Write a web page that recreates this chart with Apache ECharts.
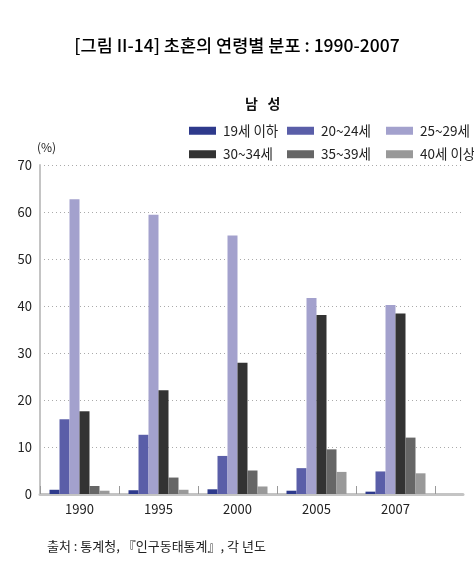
<!DOCTYPE html>
<html>
<head>
<meta charset="utf-8">
<script src="https://cdn.jsdelivr.net/npm/echarts@6/dist/echarts.min.js"></script>
<style>
  html, body { margin: 0; padding: 0; background: #fff; }
  #chart { width: 474px; height: 575px; }
</style>
</head>
<body>
<div id="chart"></div>
<script>
// 연도
var years = ['1990', '1995', '2000', '2005', '2007'];
// 연령대 이름
var groups = ['19세 이하', '20~24세', '25~29세', '30~34세', '35~39세', '40세 이상'];
var colors = ['#2e3a8c', '#5a5ea8', '#a3a1cd', '#333333', '#666666', '#999999'];

// 연령대별 값 (%)
var age19 = [0.9, 0.8, 1.0, 0.7, 0.5];
var age20 = [15.9, 12.6, 8.1, 5.5, 4.8];
var age25 = [62.7, 59.4, 55.0, 41.7, 40.2];
var age30 = [17.6, 22.1, 27.9, 38.1, 38.4];
var age35 = [1.7, 3.5, 5.0, 9.5, 12.0];
var age40 = [0.7, 0.9, 1.6, 4.7, 4.4];
var values = [age19, age20, age25, age30, age35, age40];

var yTicks = [0, 10, 20, 30, 40, 50, 60, 70];

var font = 'Noto Sans CJK KR';

(function () {
  var myChart = echarts.init(document.getElementById('chart'));

  var series = [];
  for (var i = 0; i < groups.length; i++) {
    series.push({
      name: groups[i],
      type: 'bar',
      xAxisIndex: 1,
      yAxisIndex: 1,
      barWidth: 10,
      barGap: '0%',
      itemStyle: { color: colors[i] },
      data: values[i]
    });
  }

  var legendBase = {
    orient: 'vertical',
    top: 119,
    itemWidth: 27,
    itemHeight: 8,
    itemGap: 10,
    icon: 'rect',
    textStyle: { fontFamily: font, fontSize: 13.5, color: '#222', padding: [0, 0, 0, 2] }
  };

  var option = {
    color: colors,
    animation: false,
    title: [
      {
        text: '[그림 II-14] 초혼의 연령별 분포 : 1990-2007',
        left: 'center',
        top: 32,
        textStyle: { fontFamily: font, fontSize: 17.5, fontWeight: 500, color: '#000' }
      },
      {
        text: '남   성',
        left: 240,
        top: 92,
        textStyle: { fontFamily: font, fontSize: 14, fontWeight: 'bold', color: '#111' }
      },
      {
        text: '(%)',
        left: 32,
        top: 136,
        textStyle: { fontFamily: font, fontSize: 12, fontWeight: 'normal', color: '#222' }
      },
      {
        text: '출처 : 통계청, 『인구동태통계』, 각 년도',
        left: 42,
        top: 535,
        textStyle: { fontFamily: font, fontSize: 13, fontWeight: 'normal', color: '#222' }
      }
    ],
    legend: [
      Object.assign({}, legendBase, { left: 184, data: [groups[0], groups[3]] }),
      Object.assign({}, legendBase, { left: 282, data: [groups[1], groups[4]] }),
      Object.assign({}, legendBase, { left: 381, data: [groups[2], groups[5]] })
    ],
    grid: [
      { left: 40, right: 11, top: 165, bottom: 81 },
      { left: 40, width: 395, top: 165, bottom: 81 }
    ],
    xAxis: [
      {
        type: 'category',
        gridIndex: 0,
        data: [''],
        axisLine: { lineStyle: { color: '#c4c4c4', width: 3 } },
        axisTick: { show: false },
        axisLabel: { show: false }
      },
      {
        type: 'category',
        gridIndex: 1,
        data: years,
        axisLine: { show: true, lineStyle: { color: 'rgba(0,0,0,0)' } },
        axisTick: { show: true, inside: true, length: 8, lineStyle: { color: '#999', width: 1 } },
        axisLabel: { fontFamily: font, fontSize: 13, color: '#222', margin: 9 }
      }
    ],
    yAxis: [
      {
        type: 'value',
        gridIndex: 0,
        min: 0,
        max: 70,
        interval: 10,
        axisLine: { show: true, lineStyle: { color: '#c4c4c4', width: 2 } },
        axisTick: { show: false },
        axisLabel: {
          fontFamily: font, fontSize: 13, color: '#222', margin: 8,
          formatter: function (v) { return yTicks.indexOf(v) >= 0 ? String(v) : ''; }
        },
        splitLine: { lineStyle: { color: '#aaa', type: [1, 3], width: 1 } }
      },
      {
        type: 'value',
        gridIndex: 1,
        min: 0,
        max: 70,
        interval: 10,
        show: false,
        splitLine: { show: false }
      }
    ],
    series: series
  };

  myChart.setOption(option);
  window.addEventListener('resize', function () {
    myChart.resize();
  });
})();
</script>
</body>
</html>
